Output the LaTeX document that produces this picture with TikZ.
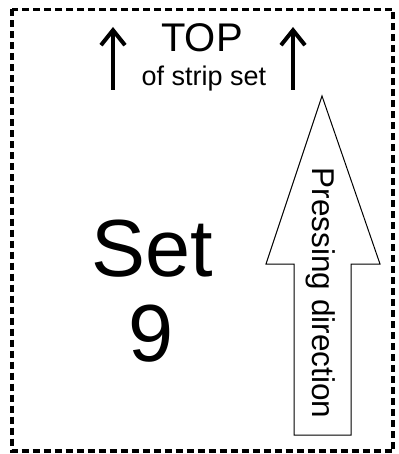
\documentclass[tikz,border=0pt]{standalone}
\usepackage{fontspec}
\setmainfont{Liberation Sans}
\usetikzlibrary{arrows.meta}
\begin{document}
\begin{tikzpicture}[x=1pt,y=-1pt,
  frame/.style={line width=3.5pt, dash pattern=on 7pt off 4pt},
  toparrow/.style={line width=4pt, -{Straight Barb[length=15pt,width=24pt,line width=4pt]}},
  bigarrow/.style={line width=1pt, line join=miter, fill=white}]
\useasboundingbox (0,0) rectangle (398,454);
\draw[frame] (12,9.5) rectangle (393,451);
% top arrows
\coordinate (la0) at (113,90); \coordinate (la1) at (113,27);
\coordinate (ra0) at (293,90); \coordinate (ra1) at (293,27);
\draw[toparrow] (la0) -- (la1);
\draw[toparrow] (ra0) -- (ra1);
\node[anchor=base, font=\fontsize{40}{44}\selectfont, inner sep=0pt] (top) at (202,52) {TOP};
\node[anchor=base, font=\fontsize{27}{30}\selectfont, inner sep=0pt] (sub) at (204,86) {of strip set};
% big label
\node[anchor=base, font=\fontsize{81}{85}\selectfont, inner sep=0pt] (set) at (152,276) {Set};
\node[anchor=base, font=\fontsize{81}{85}\selectfont, inner sep=0pt] (nine) at (151,361) {9};
% pressing arrow
\draw[bigarrow] (322,96) -- (380,264) -- (351,264) -- (351,435) -- (294,435) -- (294,264) -- (266,264) -- cycle;
\node[rotate=-90, anchor=base, font=\fontsize{31.5}{34}\selectfont, inner sep=0pt] (press) at (312,293) {Pressing direction};
\end{tikzpicture}
\end{document}
